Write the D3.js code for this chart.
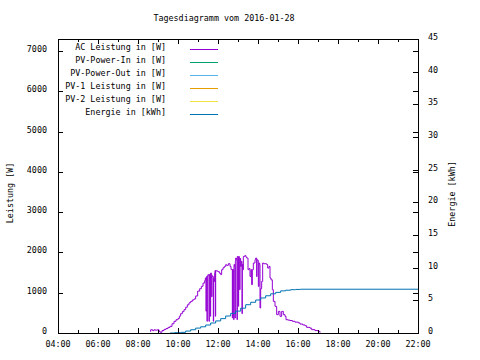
<!DOCTYPE html>
<html><head><meta charset="utf-8">
<script src="https://cdn.jsdelivr.net/npm/d3@7"></script>
<style>
html,body{margin:0;padding:0;background:#fff;}
svg text{font-family:"DejaVu Sans Mono","Liberation Mono",monospace;font-size:8.4px;fill:#000;}
</style></head>
<body><svg id="c" width="480" height="360"></svg>
<script>
const title = "Tagesdiagramm vom 2016-01-28";
const xTickLabels = ["04:00","06:00","08:00","10:00","12:00","14:00","16:00","18:00","20:00","22:00"];
const yTickValues = [0,1000,2000,3000,4000,5000,6000,7000];
const y2TickValues = [0,5,10,15,20,25,30,35,40,45];
const legendNames = ["AC Leistung in [W]","PV-Power-In in [W]","PV-Power-Out in [W]","PV-1 Leistung in [W]","PV-2 Leistung in [W]","Energie in [kWh]"];
const legendColors = ["#9400d3","#009e73","#56b4e9","#e69f00","#f0e442","#0072b2"];

const acTimes = ["08:36","08:38","08:44","08:48","08:52","08:58","09:03","09:06","09:12","09:18","09:24","09:30","09:36","09:42","09:48","09:54","10:00","10:04","10:08","10:13","10:18","10:23","10:28","10:33","10:38","10:43","10:48","10:53","10:59","11:05","11:10","11:15","11:20","11:22","11:24","11:25","11:26","11:27","11:28","11:30","11:31","11:33","11:34","11:36","11:37","11:38","11:40","11:41","11:42","11:44","11:46","11:47","11:48","11:50","11:51","11:52","11:53","11:55","12:00","12:05","12:08","12:11","12:15","12:19","12:23","12:26","12:31","12:36","12:39","12:42","12:43","12:44","12:46","12:47","12:48","12:50","12:51","12:52","12:53","12:55","12:57","12:58","13:00","13:01","13:02","13:04","13:05","13:06","13:08","13:10","13:12","13:13","13:15","13:16","13:20","13:24","13:26","13:30","13:33","13:36","13:39","13:41","13:43","13:46","13:51","13:53","13:56","13:57","13:59","14:01","14:03","14:05","14:06","14:08","14:11","14:14","14:17","14:21","14:26","14:29","14:33","14:36","14:39","14:43","14:46","14:51","14:56","15:01","15:06","15:11","15:16","15:21","15:24","15:30","15:36","15:43","15:51","16:01","16:06","16:14","16:21","16:26","16:36","16:41","16:51","17:01","17:06"];
const acWatts = [40,80,60,80,70,80,40,20,60,90,110,140,165,230,290,330,360,420,480,530,580,640,700,750,785,820,845,920,1040,1100,1160,1240,1300,1365,540,1380,1400,290,1420,1450,1440,290,1450,1460,414,1490,1470,900,1420,1400,290,1350,1280,1480,1550,414,1550,1540,1520,1480,1450,1572,1620,1654,1696,1680,1720,1654,1580,1572,372,1580,1570,331,1700,1650,372,1780,1861,1820,331,1900,1880,662,1900,1860,1075,1850,1654,1780,480,1700,1572,1900,1919,1880,1861,1572,1600,1406,1572,1200,1572,1737,1820,1861,1400,1820,1800,1158,1737,1700,620,1100,1282,1737,1720,1720,1700,1613,1654,1365,1320,1075,785,662,455,537,414,537,455,414,330,320,310,290,270,250,223,200,180,140,120,83,60,40,10];

const enTimes = ["09:36","09:50","10:08","10:23","10:38","10:53","11:08","11:23","11:38","11:53","12:08","12:23","12:38","12:53","13:08","13:23","13:38","13:53","14:08","14:23","14:38","14:53","15:08","15:23","15:38","15:53","16:08","22:00"];
const enKWh = [0,0.05,0.1,0.3,0.5,0.75,0.95,1.22,1.53,1.85,2.2,2.6,3.0,3.35,3.8,4.33,4.7,5.05,5.36,5.7,6.0,6.22,6.45,6.55,6.63,6.67,6.7,6.7];

const toH = s => { const [h,m] = s.split(":").map(Number); return h + m/60; };
const L = 58, R = 418, T = 39, B = 333;
const x = d3.scaleLinear().domain([4,22]).range([L,R]);
const y = d3.scaleLinear().domain([0,7300]).range([B,T]);
const y2 = d3.scaleLinear().domain([0,45]).range([B,T]);
const svg = d3.select("#c");

svg.append("text").attr("x",224).attr("y",18).attr("text-anchor","middle").attr("dominant-baseline","middle").text(title);

// data lines
const acData = acTimes.map((t,i)=>({t:toH(t),v:acWatts[i]}));
const enData = enTimes.map((t,i)=>({t:toH(t),v:enKWh[i]}));
svg.append("path").attr("d",d3.line().x(d=>x(d.t)).y(d=>y(d.v)).curve(d3.curveStepAfter)(acData))
  .attr("fill","none").attr("stroke",legendColors[0]).attr("stroke-width",1);
svg.append("path").attr("d",d3.line().x(d=>x(d.t)).y(d=>y2(d.v)).curve(d3.curveStepAfter)(enData))
  .attr("fill","none").attr("stroke",legendColors[5]).attr("stroke-width",1);

// border
const g = svg.append("g").attr("shape-rendering","crispEdges");
g.append("rect").attr("x",L+0.5).attr("y",T+0.5).attr("width",R-L).attr("height",B-T).attr("fill","none").attr("stroke","#000");

// x ticks
const hours = d3.range(4,23,1);
hours.forEach(h=>{
  const len = (h%2===0)?5:3;
  const px = Math.round(x(h))+0.5;
  g.append("line").attr("x1",px).attr("x2",px).attr("y1",B).attr("y2",B-len).attr("stroke","#000");
  g.append("line").attr("x1",px).attr("x2",px).attr("y1",T).attr("y2",T+len).attr("stroke","#000");
});
xTickLabels.forEach(s=>{
  svg.append("text").attr("x",x(toH(s))).attr("y",344).attr("text-anchor","middle").attr("dominant-baseline","middle").text(s);
});
// y ticks (left, mirrored right)
yTickValues.forEach(v=>{
  const py = Math.round(y(v))+0.5;
  g.append("line").attr("x1",L).attr("x2",L+5).attr("y1",py).attr("y2",py).attr("stroke","#000");
  g.append("line").attr("x1",R).attr("x2",R-5).attr("y1",py).attr("y2",py).attr("stroke","#000");
  svg.append("text").attr("x",47).attr("y",y(v)-1.5).attr("text-anchor","end").attr("dominant-baseline","middle").text(v);
});
// y2 ticks
y2TickValues.forEach(v=>{
  const py = Math.round(y2(v))+0.5;
  g.append("line").attr("x1",R).attr("x2",R-5).attr("y1",py).attr("y2",py).attr("stroke","#000");
  svg.append("text").attr("x",428).attr("y",y2(v)-1.5).attr("text-anchor","start").attr("dominant-baseline","middle").text(v);
});

// axis titles
svg.append("text").attr("transform","translate(10,193) rotate(-90)").attr("text-anchor","middle").attr("dominant-baseline","middle").text("Leistung [W]");
svg.append("text").attr("transform","translate(452,194) rotate(-90)").attr("text-anchor","middle").attr("dominant-baseline","middle").text("Energie [kWh]");

// legend
legendNames.forEach((n,i)=>{
  const ly = 47 + i*13;
  svg.append("text").attr("x",166).attr("y",ly).attr("text-anchor","end").attr("dominant-baseline","middle").text(n);
  g.append("line").attr("x1",190).attr("x2",218).attr("y1",ly+2.5).attr("y2",ly+2.5).attr("stroke",legendColors[i]);
});
</script></body></html>
